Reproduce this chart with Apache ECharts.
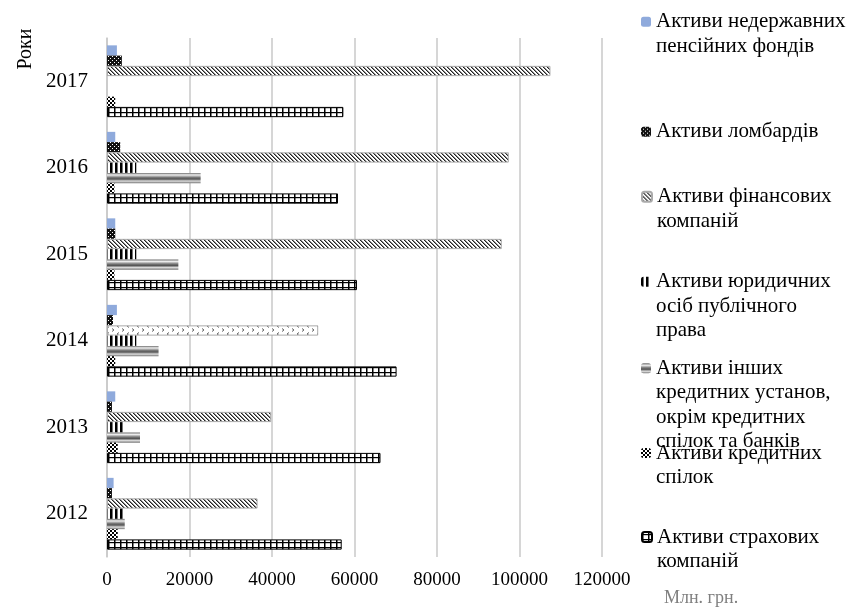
<!DOCTYPE html>
<html><head><meta charset="utf-8">
<script src="https://cdn.jsdelivr.net/npm/echarts@6/dist/echarts.min.js"></script>
<style>html,body{margin:0;padding:0;background:#fff}#c{width:847px;height:610px}</style>
</head><body><div id="c"></div>
<script>
const years = ['2012','2013','2014','2015','2016','2017'];
const xTicks = [0,20000,40000,60000,80000,100000,120000];
const seriesNames = [
  'Активи недержавних пенсійних фондів',
  'Активи ломбардів',
  'Активи фінансових компаній',
  'Активи юридичних осіб публічного права',
  'Активи інших кредитних установ, окрім кредитних спілок та банків',
  'Активи кредитних спілок',
  'Активи страхових компаній'
];
const legendLines = [
  ['Активи недержавних','пенсійних фондів'],
  ['Активи ломбардів'],
  ['Активи фінансових','компаній'],
  ['Активи юридичних','осіб публічного','права'],
  ['Активи інших','кредитних установ,','окрім кредитних','спілок та банків'],
  ['Активи кредитних','спілок'],
  ['Активи страхових','компаній']
];
const pension   = [1600, 2000, 2400, 2000, 2000, 2400];
const lombard   = [1200, 1200, 1450, 2000, 3200, 3600];
const finComp   = [36500, 39800, 51200, 95700, 97400, 107500];
const legalPub  = [4300, 4300, 7100, 7100, 7100, null];
const otherCred = [4300, 8000, 12500, 17300, 22700, null];
const creditUn  = [2600, 2600, 2000, 1800, 1800, 2000];
const insurance = [56900, 66300, 70200, 60600, 56000, 57300];

function pat(w,h,draw){const c=document.createElement('canvas');c.width=w;c.height=h;const g=c.getContext('2d');g.fillStyle='#fff';g.fillRect(0,0,w,h);draw(g);return {image:c,repeat:'repeat'};}
const pLombard = pat(4,4,g=>{g.fillStyle='#111';g.fillRect(0,0,4,4);g.fillStyle='#fff';g.fillRect(0,0,1,1);g.fillRect(2,2,1,1);});
const pFin = pat(4,4,g=>{g.fillStyle='#222';for(let i=0;i<4;i++){g.fillRect(i,i,1,1);}g.fillStyle='#888';for(let i=0;i<4;i++){g.fillRect((i+1)%4,i,1,1);}});
const pFin14 = pat(10,8,g=>{g.strokeStyle='#666';g.lineWidth=1;g.beginPath();g.moveTo(2,0.5);g.lineTo(4,2);g.lineTo(2,3.5);g.moveTo(9,4.5);g.lineTo(7,6);g.lineTo(9,7.5);g.stroke();});
const pLegal = pat(5,4,g=>{g.fillStyle='#000';g.fillRect(0,0,2,4);g.fillStyle='#777';g.fillRect(2,0,1,4);});
const pOther = {type:'linear',x:0,y:0,x2:0,y2:1,colorStops:[{offset:0,color:'#666'},{offset:0.2,color:'#eee'},{offset:0.45,color:'#777'},{offset:0.6,color:'#555'},{offset:0.8,color:'#ddd'},{offset:1,color:'#777'}]};
const pCU = pat(4,4,g=>{g.fillStyle='#000';g.fillRect(0,0,2,2);g.fillRect(2,2,2,2);});
const pIns = pat(6,5,g=>{g.fillStyle='#000';g.fillRect(0,0,1.5,5);g.fillRect(0,2,6,1.2);});

const fin = finComp.map((v,i)=> years[i]==='2014' ? {value:v,itemStyle:{color:pFin14,borderColor:'#aaa',borderWidth:1}} : v);

const seriesDefs = [
  {name:seriesNames[0], data:pension, itemStyle:{color:'#8faadc'}},
  {name:seriesNames[1], data:lombard, itemStyle:{color:pLombard}},
  {name:seriesNames[2], data:fin, itemStyle:{color:pFin,borderColor:'#aaa',borderWidth:1}},
  {name:seriesNames[3], data:legalPub, itemStyle:{color:pLegal}},
  {name:seriesNames[4], data:otherCred, itemStyle:{color:pOther}},
  {name:seriesNames[5], data:creditUn, itemStyle:{color:pCU}},
  {name:seriesNames[6], data:insurance, itemStyle:{color:pIns,borderColor:'#000',borderWidth:1}}
];
const series = seriesDefs.map(s=>Object.assign({type:'bar',barGap:'0%',barCategoryGap:'17%',emphasis:{disabled:true}},s));

const legendCenters = [21.7,131.7,196.7,281.7,368.3,453,537];
const LH = 24.5;
const legends = seriesNames.map((n,i)=>{
  const nl = legendLines[i].length;
  const total = (2*nl-1)*LH;
  return {
    data:[n], left:641, top:legendCenters[i]-total/2, padding:0, itemWidth:10, itemHeight:10, selectedMode:false,
    formatter:()=> '\n'.repeat(nl-1)+legendLines[i].join('\n'),
    textStyle:{fontFamily:'Liberation Serif',fontSize:21,color:'#000',lineHeight:LH}
  };
});

const chart = echarts.init(document.getElementById('c'),null,{renderer:'canvas'});
chart.setOption({
  animation:false,
  grid:{left:107,right:245,top:38,bottom:53,containLabel:false},
  xAxis:{type:'value',min:0,max:120000,interval:20000,
    axisLine:{show:false},axisTick:{show:false},
    splitLine:{lineStyle:{color:'#c8c8c8',width:1.5}},
    axisLabel:{margin:14,color:'#000',fontFamily:'Liberation Serif',fontSize:19,
      formatter:v=> xTicks.includes(v)? String(v):''}},
  yAxis:{type:'category',data:years,
    axisLine:{lineStyle:{color:'#c8c8c8',width:1.5}},axisTick:{show:false},
    axisLabel:{margin:19,color:'#000',fontFamily:'Liberation Serif',fontSize:21}},
  legend:legends,
  series:series,
  graphic:[
    {type:'text',x:26,y:49,rotation:Math.PI/2,style:{text:'Роки',fontFamily:'Liberation Serif',fontSize:20,fill:'#000',align:'center',verticalAlign:'middle'}},
    {type:'text',left:664,top:589,style:{text:'Млн. грн.',fontFamily:'Liberation Serif',fontSize:18,fill:'#7f7f7f'}}
  ]
});
</script></body></html>
